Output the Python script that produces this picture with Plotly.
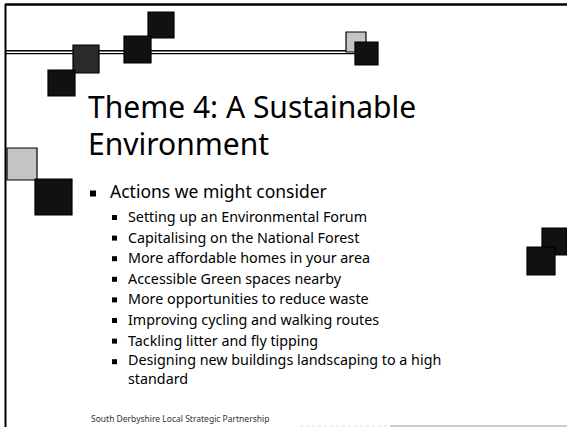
import plotly.graph_objects as go

# ---- content ----
title_lines = ["Theme 4: A Sustainable", "Environment"]
main_bullet = "Actions we might consider"
sub_bullets = [
    "Setting up an Environmental Forum",
    "Capitalising on the National Forest",
    "More affordable homes in your area",
    "Accessible Green spaces nearby",
    "More opportunities to reduce waste",
    "Improving cycling and walking routes",
    "Tackling litter and fly tipping",
    "Designing new buildings landscaping to a high<br>standard",
]
footer_text = "South Derbyshire Local Strategic Partnership"

# ---- layout constants ----
W, H = 567, 427
FONT = "Noto Sans"
DARK = "#111111"
LIGHT = "#c4c4c4"

# decorative squares: (x0, y0, x1, y1, fill)
squares = [
    (148, 12, 174, 38, DARK),
    (124, 36, 151, 63, DARK),
    (73, 45, 99, 73, "#2a2a2a"),
    (48, 70, 75, 96, DARK),
    (346, 32, 366, 52, LIGHT),
    (355, 42, 378, 65, DARK),
    (7, 148, 37, 180, LIGHT),
    (35, 179, 72, 215, DARK),
    (542, 228, 567, 255, DARK),
    (527, 247, 555, 275, DARK),
]

fig = go.Figure()
fig.add_trace(go.Scatter(x=[], y=[], mode="markers", showlegend=False))

shapes = []
# frame lines
shapes.append(dict(type="line", x0=5, y0=4.5, x1=W, y1=4.5, line=dict(color="black", width=2.5)))
shapes.append(dict(type="line", x0=5.5, y0=4, x1=5.5, y1=H, line=dict(color="black", width=2)))
shapes.append(dict(type="line", x0=300, y0=426, x1=390, y1=426, line=dict(color="#dddddd", width=1, dash="dot")))
shapes.append(dict(type="line", x0=390, y0=426, x1=W, y1=426, line=dict(color="#bbbbbb", width=1.5)))
# double horizontal rule
shapes.append(dict(type="line", x0=5, y0=50.8, x1=357, y1=50.8, line=dict(color="black", width=1.4)))
shapes.append(dict(type="line", x0=5, y0=53.6, x1=357, y1=53.6, line=dict(color="black", width=1.4)))
for (x0, y0, x1, y1, c) in squares:
    shapes.append(dict(type="rect", x0=x0, y0=y0, x1=x1, y1=y1, fillcolor=c,
                       line=dict(color="black", width=1.2), layer="above"))

annotations = []
TITLE_SIZE = 30
title_baselines = [118, 155]
for t, b in zip(title_lines, title_baselines):
    annotations.append(dict(x=86, y=b - 0.388 * TITLE_SIZE, text=t, showarrow=False,
                            xanchor="left", yanchor="middle",
                            font=dict(family=FONT, size=TITLE_SIZE, color="black")))

MAIN_SIZE = 17.5
main_base = 198
annotations.append(dict(x=108, y=main_base - 0.388 * MAIN_SIZE, text=main_bullet, showarrow=False,
                        xanchor="left", yanchor="middle",
                        font=dict(family=FONT, size=MAIN_SIZE, color="black")))
shapes.append(dict(type="rect", x0=90, y0=main_base - 7.5, x1=96, y1=main_base - 1.5,
                   fillcolor="black", line=dict(width=0)))

SUB_SIZE = 14.3
sub_base0 = 222
sub_step = 20.6
for i, t in enumerate(sub_bullets):
    b = sub_base0 + i * sub_step
    n = t.count("<br>") + 1
    yc = b - 0.388 * SUB_SIZE + (n - 1) * 8.5
    annotations.append(dict(x=126, y=yc, text=t, showarrow=False,
                            xanchor="left", yanchor="middle", align="left",
                            font=dict(family=FONT, size=SUB_SIZE, color="black")))
    shapes.append(dict(type="rect", x0=112, y0=b - 7, x1=117, y1=b - 2,
                       fillcolor="black", line=dict(width=0)))

annotations.append(dict(x=89, y=418, text=footer_text, showarrow=False,
                        xanchor="left", yanchor="middle",
                        font=dict(family=FONT, size=8.5, color="#333333")))

fig.update_layout(
    width=W, height=H,
    margin=dict(l=0, r=0, t=0, b=0),
    paper_bgcolor="white", plot_bgcolor="white",
    xaxis=dict(range=[0, W], visible=False, fixedrange=True),
    yaxis=dict(range=[H, 0], visible=False, fixedrange=True),
    shapes=shapes, annotations=annotations,
    showlegend=False,
)
fig.write_html(
    "out.html",
    config={"displayModeBar": False},
    post_script="document.body.style.margin='0px';document.body.style.overflow='hidden';",
)
